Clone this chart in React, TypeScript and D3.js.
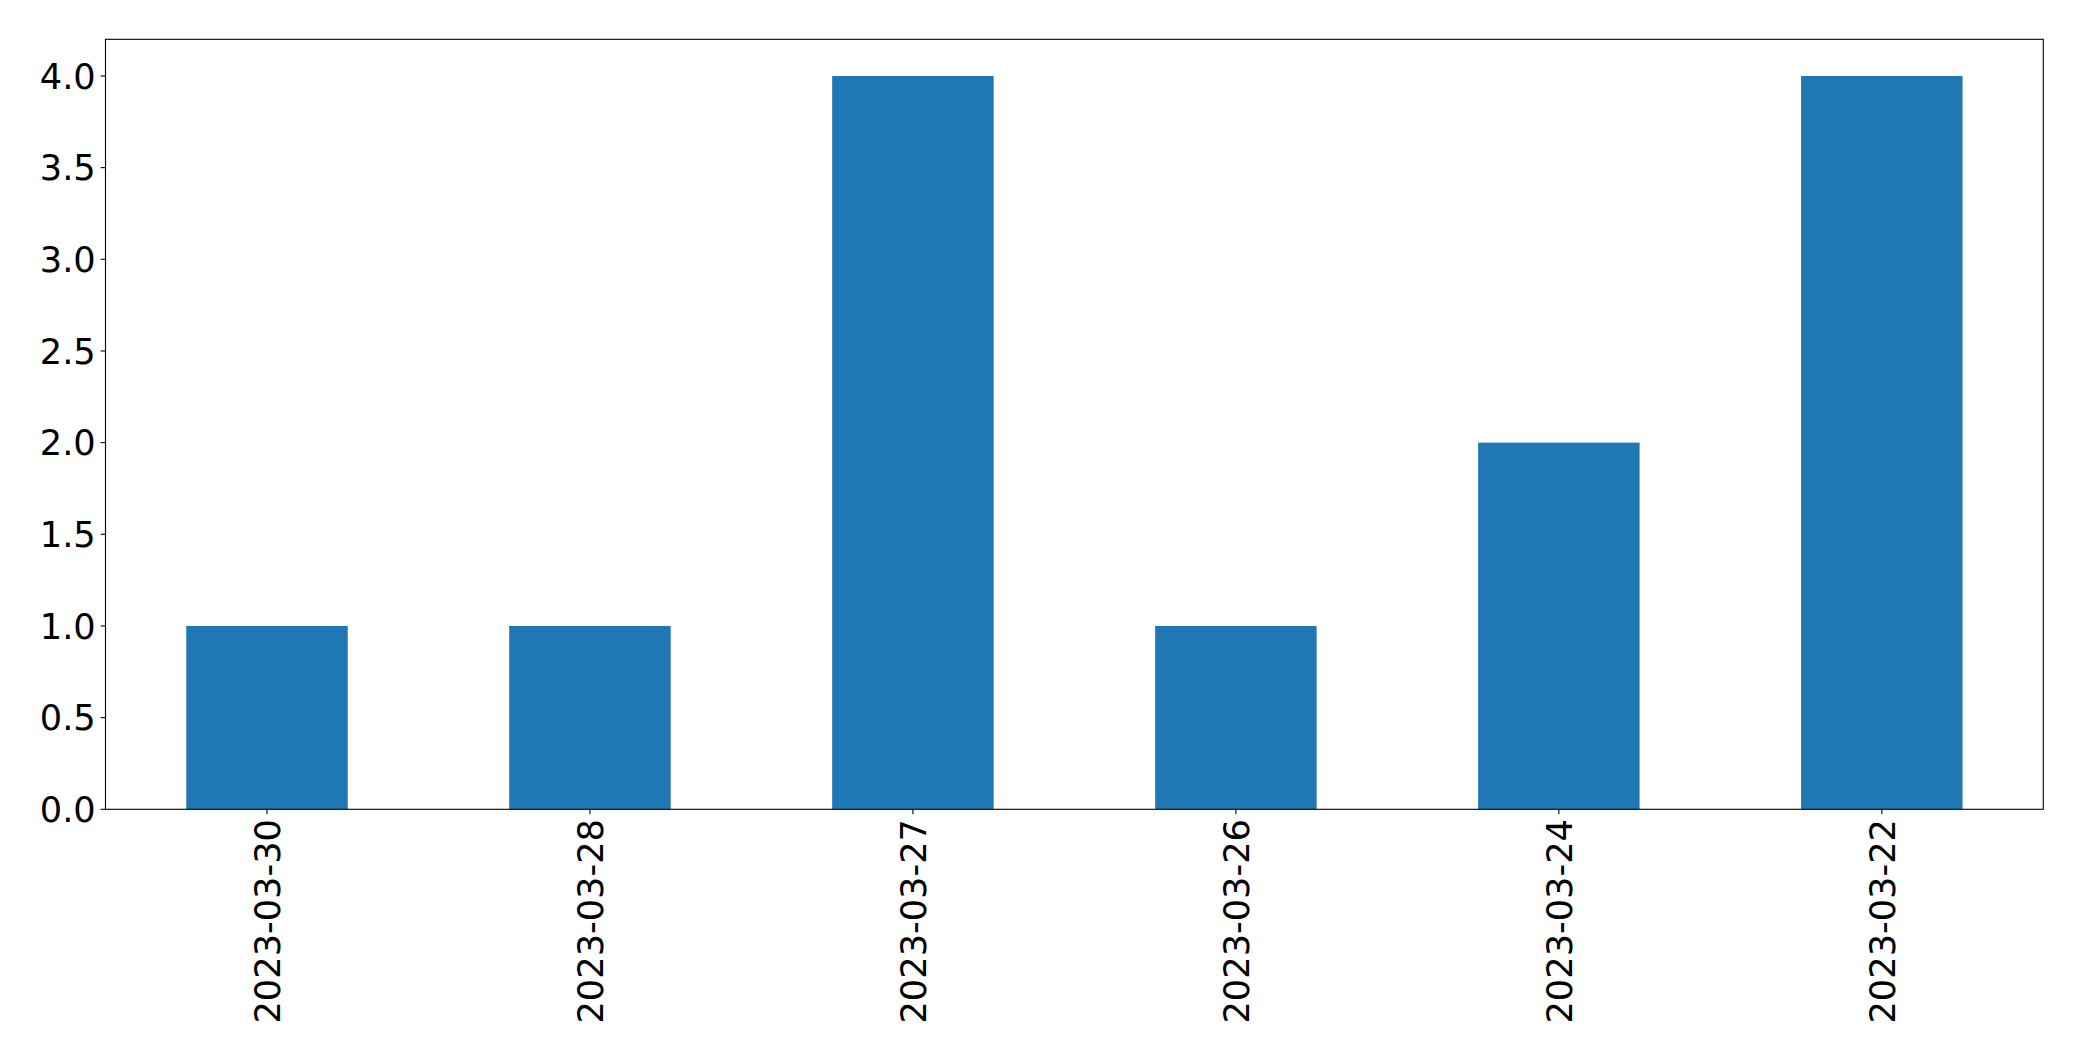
import React from "react";
import * as d3 from "d3";

const categories = ["2023-03-30", "2023-03-28", "2023-03-27", "2023-03-26", "2023-03-24", "2023-03-22"];
const values = [1, 1, 4, 1, 2, 4];
const yTicks = [0, 0.5, 1, 1.5, 2, 2.5, 3, 3.5, 4];

const W = 2082;
const H = 1061;
const left = 105.5;
const right = 2043.3;
const top = 39.3;
const bottom = 809.3;
const fs = 35.2;
const tickLen = 4.86;
const pad = 4.86;
const font = "DejaVu Sans, sans-serif";

export default function App() {
  const x = d3.scaleLinear().domain([-0.5, categories.length - 0.5]).range([left, right]);
  const y = d3.scaleLinear().domain([0, d3.max(values)! * 1.05]).range([bottom, top]);
  const bw = 0.5;
  return (
    <svg width={W} height={H} style={{ position: "absolute", left: 0, top: 0, background: "#fff" }}>
      <rect x={0} y={0} width={W} height={H} fill="#fff" />
      {values.map((v, i) => (
        <rect
          key={i}
          x={x(i - bw / 2)}
          y={y(v)}
          width={x(i + bw / 2) - x(i - bw / 2)}
          height={y(0) - y(v)}
          fill="#1f77b4"
        />
      ))}
      <rect x={left} y={top} width={right - left} height={bottom - top} fill="none" stroke="#000" strokeWidth={1.1} />
      {yTicks.map((t) => (
        <g key={t}>
          <line x1={left - tickLen} x2={left} y1={y(t)} y2={y(t)} stroke="#000" strokeWidth={1.1} />
          <text
            x={left - tickLen - pad}
            y={y(t)}
            dy="0.36em"
            textAnchor="end"
            fontFamily={font}
            fontSize={fs}
            fill="#000"
          >
            {t.toFixed(1)}
          </text>
        </g>
      ))}
      {categories.map((c, i) => (
        <g key={c}>
          <line x1={x(i)} x2={x(i)} y1={bottom} y2={bottom + tickLen} stroke="#000" strokeWidth={1.1} />
          <text
            transform={`translate(${x(i) + 13},${bottom + tickLen + pad}) rotate(-90)`}
            textAnchor="end"
            fontFamily={font}
            fontSize={fs}
            fill="#000"
          >
            {c}
          </text>
        </g>
      ))}
    </svg>
  );
}
